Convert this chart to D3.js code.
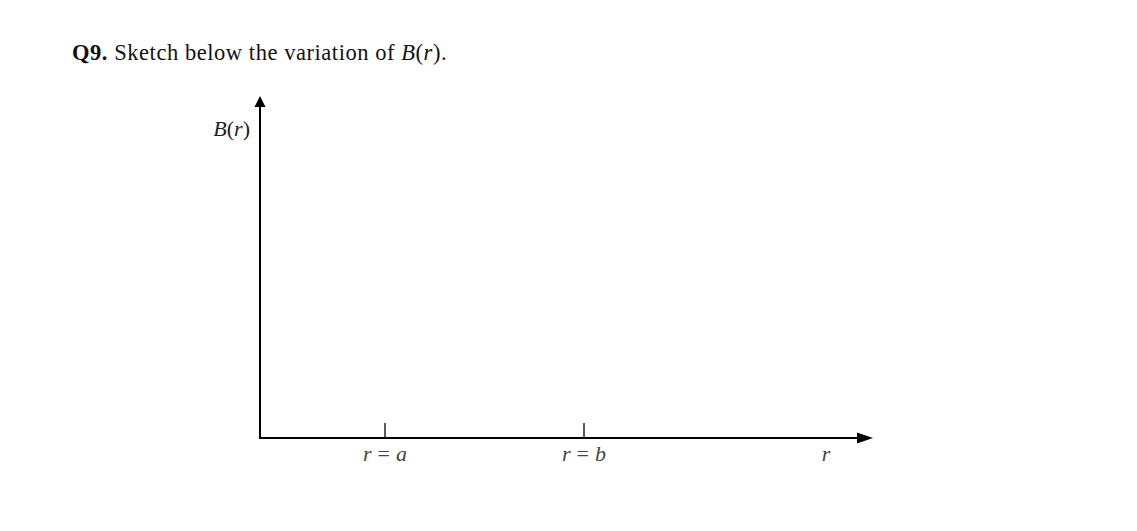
<!DOCTYPE html>
<html><head><meta charset="utf-8">
<script src="https://cdn.jsdelivr.net/npm/d3@7"></script>
<style>html,body{margin:0;padding:0;background:#fff;}svg{display:block;}
svg text{font-family:"Liberation Serif","Times New Roman",Times,"DejaVu Serif",serif;}</style>
</head><body>
<script>
const tickValues = [125, 324];
const tickLabels = ["a", "b"];
const axisLabelR = 566;
const xDomain = [0, 613];
const yDomain = [0, 342];

const W = 1137, H = 531;
const svg = d3.select("body").append("svg").attr("width", W).attr("height", H);
const x = d3.scaleLinear().domain(xDomain).range([260, 873]);
const y = d3.scaleLinear().domain(yDomain).range([438, 96]);

// title
const t = svg.append("text").attr("x", 72).attr("y", 60).attr("font-size", 22.5).attr("letter-spacing", 0.55).attr("fill", "#111");
t.append("tspan").attr("font-weight", "bold").text("Q9.");
t.append("tspan").text(" Sketch below the variation of ");
t.append("tspan").attr("font-style", "italic").text("B");
t.append("tspan").text("(");
t.append("tspan").attr("font-style", "italic").text("r");
t.append("tspan").text(").");

// axes lines
svg.append("line").attr("x1", x(0)).attr("x2", x(xDomain[1]) - 12).attr("y1", y(0)).attr("y2", y(0)).attr("stroke", "#000").attr("stroke-width", 2);
svg.append("line").attr("x1", x(0)).attr("x2", x(0)).attr("y1", y(0) + 1).attr("y2", y(yDomain[1]) + 8).attr("stroke", "#000").attr("stroke-width", 2);
// arrows
const xe = x(xDomain[1]), ye = y(yDomain[1]);
svg.append("path").attr("d", `M${xe},${y(0)} L${xe - 16},${y(0) - 5.5} L${xe - 16},${y(0) + 5.5} Z`).attr("fill", "#000");
svg.append("path").attr("d", `M${x(0)},${ye} L${x(0) - 5.5},${ye + 11} L${x(0) + 5.5},${ye + 11} Z`).attr("fill", "#000");

// ticks
svg.selectAll(".tk").data(tickValues).join("line")
  .attr("x1", d => x(d)).attr("x2", d => x(d)).attr("y1", y(0) - 15).attr("y2", y(0))
  .attr("stroke", "#000").attr("stroke-width", 1.3);

// tick labels
tickValues.forEach((v, i) => {
  const tt = svg.append("text").attr("x", x(v)).attr("y", 461).attr("text-anchor", "middle")
    .attr("font-size", 22).attr("fill", "#444");
  tt.append("tspan").attr("font-style", "italic").text("r");
  tt.append("tspan").attr("dx", 6).text("=");
  tt.append("tspan").attr("dx", 6).attr("font-style", "italic").text(tickLabels[i]);
});
svg.append("text").attr("x", x(axisLabelR)).attr("y", 461).attr("text-anchor", "middle")
  .attr("font-size", 22).attr("font-style", "italic").attr("fill", "#444").text("r");

// y label
const yl = svg.append("text").attr("x", 250).attr("y", 136).attr("text-anchor", "end")
  .attr("font-size", 22).attr("fill", "#222");
yl.append("tspan").attr("font-style", "italic").text("B");
yl.append("tspan").text("(");
yl.append("tspan").attr("font-style", "italic").text("r");
yl.append("tspan").text(")");
</script>
</body></html>
